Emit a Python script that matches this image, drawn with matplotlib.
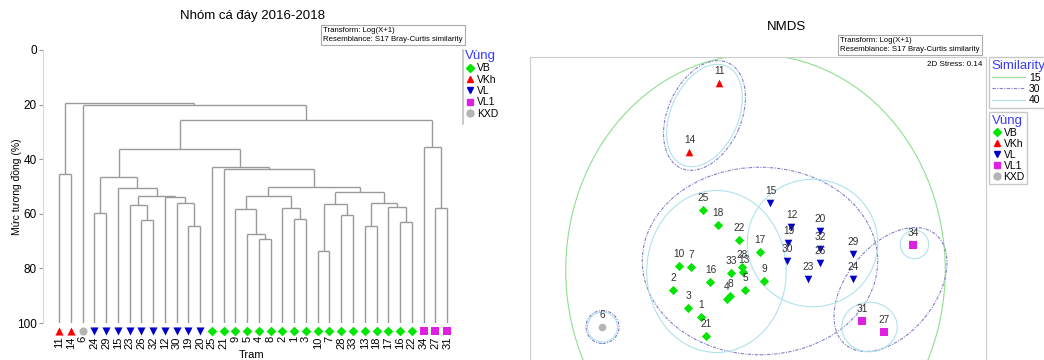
import matplotlib.pyplot as plt
from matplotlib.lines import Line2D
from matplotlib.patches import Ellipse

plt.rcParams['font.family'] = ['Liberation Sans', 'DejaVu Sans']

# leaf order of the cluster tree and the region of each leaf
leaf_order = [11, 14, 6, 24, 29, 15, 23, 26, 32, 12, 30, 19, 20, 25, 21, 9, 5,
              4, 8, 2, 1, 3, 10, 7, 28, 33, 13, 18, 17, 16, 22, 34, 27, 31]
leaf_region = ['VKh', 'VKh', 'KXD'] + ['VL'] * 10 + ['VB'] * 18 + ['VL1'] * 3

# (left, right, similarity %), 'cN' = cluster made at step N
merges = [
    (11, 14, 45.5),        # c0
    (24, 29, 59.8),        # c1
    (26, 32, 62.3),        # c2
    (23, 'c2', 56.8),      # c3
    (19, 20, 64.5),        # c4
    (30, 'c4', 56.0),      # c5
    (12, 'c5', 53.8),      # c6
    ('c3', 'c6', 53.4),    # c7
    (15, 'c7', 50.7),      # c8
    ('c1', 'c8', 46.4),    # c9
    (4, 8, 69.1),          # c10
    (5, 'c10', 67.5),      # c11
    (9, 'c11', 58.2),      # c12
    (1, 3, 61.9),          # c13
    (2, 'c13', 58.0),      # c14
    ('c12', 'c14', 53.5),  # c15
    (10, 7, 73.5),         # c16
    (28, 33, 60.4),        # c17
    ('c16', 'c17', 56.5),  # c18
    (13, 18, 64.5),        # c19
    (16, 22, 62.9),        # c20
    (17, 'c20', 57.6),     # c21
    ('c19', 'c21', 55.9),  # c22
    ('c18', 'c22', 52.1),  # c23
    ('c15', 'c23', 50.0),  # c24
    (21, 'c24', 43.7),     # c25
    (25, 'c25', 43.0),     # c26
    ('c9', 'c26', 36.4),   # c27
    (27, 31, 57.7),        # c28
    (34, 'c28', 35.5),     # c29
    ('c27', 'c29', 25.5),  # c30
    (6, 'c30', 20.0),      # c31
    ('c0', 'c31', 19.3),   # c32
]

# NMDS ordination, stations 1..34
station = list(range(1, 35))
station_region = ['VB', 'VB', 'VB', 'VB', 'VB', 'KXD', 'VB', 'VB', 'VB', 'VB',
                  'VKh', 'VL', 'VB', 'VKh', 'VL', 'VB', 'VB', 'VB', 'VL', 'VL',
                  'VB', 'VB', 'VL', 'VL', 'VB', 'VL', 'VL1', 'VB', 'VL', 'VL',
                  'VL1', 'VL', 'VB', 'VL1']
nmds_x = [-0.39, -0.58, -0.48, -0.22, -0.10, -1.05, -0.46, -0.20, 0.03, -0.54,
          -0.27, 0.21, -0.11, -0.47, 0.07, -0.33, 0.00, -0.28, 0.19, 0.40,
          -0.36, -0.14, 0.32, 0.62, -0.38, 0.40, 0.83, -0.12, 0.62, 0.18,
          0.68, 0.40, -0.19, 1.02]
nmds_y = [-0.71, -0.53, -0.65, -0.59, -0.53, -0.78, -0.38, -0.57, -0.47, -0.37,
          0.85, -0.11, -0.41, 0.39, 0.05, -0.48, -0.28, -0.10, -0.22, -0.14,
          -0.84, -0.20, -0.46, -0.46, 0.00, -0.35, -0.81, -0.38, -0.29, -0.34,
          -0.74, -0.26, -0.42, -0.23]

# similarity contours: level, centre, width, height, angle
contour_level = [15, 30, 30, 30, 30, 40, 40, 40, 40, 40, 40]
contour_cx = [-0.03, -0.37, -1.05, 0.00, 0.87, -0.37, -1.05, -0.29, 0.35, 1.03, 0.73]
contour_cy = [-0.40, 0.63, -0.78, -0.34, -0.53, 0.63, -0.78, -0.41, -0.22, -0.23, -0.78]
contour_w = [2.53, 0.77, 0.22, 1.57, 0.95, 0.72, 0.20, 0.93, 0.87, 0.19, 0.37]
contour_h = [2.87, 0.49, 0.22, 1.25, 0.59, 0.45, 0.20, 1.08, 0.85, 0.19, 0.33]
contour_angle = [0, 66, 0, 0, 51, 66, 0, 0, 0, 0, 0]

regions = ['VB', 'VKh', 'VL', 'VL1', 'KXD']
region_style = {'VB': ('D', '#00e600'), 'VKh': ('^', '#ff0000'),
                'VL': ('v', '#0000c8'), 'VL1': ('s', '#e020e0'),
                'KXD': ('o', '#b4b4b4')}
level_style = {15: ('#8fdf8f', '-'), 30: ('#8080cc', (0, (3, 1.2, 1, 1.2))),
               40: ('#b0e2ec', '-')}

W, H = 1044, 360
fig = plt.figure(figsize=(W / 100, H / 100), dpi=100)


def box(l, t, r, b):
    return [l / W, 1 - b / H, (r - l) / W, (b - t) / H]


def region_handles():
    return [Line2D([], [], marker=region_style[r][0], color=region_style[r][1],
                   ls='none', markersize=3.8 if region_style[r][0] == 'D' else 5)
            for r in regions]


# ---------------- dendrogram ----------------
ax1 = fig.add_axes(box(43, 50, 458, 323))
node_x = {s: i for i, s in enumerate(leaf_order)}
node_h = {s: 100 for s in leaf_order}
line_kw = dict(color='#9a9a9a', lw=1.0, solid_capstyle='butt')
for k, (a, b, s) in enumerate(merges):
    for c in (a, b):
        ax1.plot([node_x[c], node_x[c]], [node_h[c], s], **line_kw)
    ax1.plot([node_x[a], node_x[b]], [s, s], **line_kw)
    node_x['c%d' % k] = (node_x[a] + node_x[b]) / 2
    node_h['c%d' % k] = s

for r in regions:
    idx = [i for i, g in enumerate(leaf_region) if g == r]
    m, c = region_style[r]
    ax1.scatter(idx, [102.8] * len(idx), marker=m, c=c, s=34 if m != 'D' else 24,
                linewidths=0, clip_on=False, zorder=3)

ax1.set_xlim(-1.36, 33.93)
ax1.set_ylim(100, 0)
ax1.set_xticks(range(len(leaf_order)), [str(s) for s in leaf_order], rotation=90)
ax1.tick_params(axis='x', length=0, pad=9.5, labelsize=8)
ax1.set_yticks([0, 20, 40, 60, 80, 100])
ax1.tick_params(axis='y', length=3, color='#999999', labelsize=8.5, pad=1.5)
for side in ['top', 'right', 'bottom']:
    ax1.spines[side].set_visible(False)
ax1.spines['left'].set_color('#d8d8d8')

fig.text(253 / W, 1 - 16 / H, 'Nhóm cá đáy 2016-2018', ha='center', va='center', fontsize=9.5)
fig.text(17 / W, 1 - 187 / H, 'Mức tương đồng (%)', rotation=90, ha='center', va='center', fontsize=7.5)
fig.text(252 / W, 1 - 355 / H, 'Tram', ha='center', va='center', fontsize=8)

info = 'Transform: Log(X+1)\nResemblance: S17 Bray-Curtis similarity'
info_box = dict(boxstyle='square,pad=0.3', fc='white', ec='#aaaaaa', lw=0.8)
fig.text(323 / W, 1 - 35 / H, info, ha='left', va='center', fontsize=5.6,
         linespacing=1.35, bbox=info_box)

leg1 = fig.legend(region_handles(), regions, loc='upper left',
                  bbox_to_anchor=(465 / W, 1 - 50 / H), frameon=False, title='Vùng',
                  fontsize=7.5, title_fontsize=9.5, alignment='left',
                  handletextpad=0.15, labelspacing=0.13, borderpad=0,
                  handlelength=1.0, borderaxespad=0)
leg1.get_title().set_color('#3a3aff')
fig.add_artist(Line2D([463 / W, 463 / W], [1 - 50 / H, 1 - 124 / H], color='#c0c0c0', lw=1.2))

# ---------------- NMDS ----------------
ax2 = fig.add_axes(box(530, 57, 986, 380))
ax2.set_xlim(-1.5333, 1.5067)
ax2.set_ylim(-1.1333, 1.02)
ax2.set_xticks([])
ax2.set_yticks([])
for sp in ax2.spines.values():
    sp.set_color('#cccccc')

for lv, cx, cy, w, h, ang in zip(contour_level, contour_cx, contour_cy,
                                 contour_w, contour_h, contour_angle):
    col, ls = level_style[lv]
    ax2.add_patch(Ellipse((cx, cy), w, h, angle=ang, fill=False, ec=col, ls=ls, lw=0.8))

for r in regions:
    m, c = region_style[r]
    xs = [x for x, g in zip(nmds_x, station_region) if g == r]
    ys = [y for y, g in zip(nmds_y, station_region) if g == r]
    ax2.scatter(xs, ys, marker=m, c=c, s=30 if m != 'D' else 22, linewidths=0, zorder=3)

for s, x, y in zip(station, nmds_x, nmds_y):
    ax2.annotate(str(s), (x, y), xytext=(0, 8.5), textcoords='offset points',
                 ha='center', va='center', fontsize=7.3, color='#333333', zorder=4)

fig.text(787 / W, 1 - 27 / H, 'NMDS', ha='center', va='center', fontsize=9.5)
fig.text(840 / W, 1 - 45 / H, info, ha='left', va='center', fontsize=5.6,
         linespacing=1.35, bbox=info_box)
fig.text(982 / W, 1 - 64 / H, '2D Stress: 0.14', ha='right', va='center', fontsize=5.8)

sim_handles = [Line2D([], [], color=level_style[lv][0], ls=level_style[lv][1], lw=0.8)
               for lv in (15, 30, 40)]
leg2 = fig.legend(sim_handles, ['15', '30', '40'], loc='upper left',
                  bbox_to_anchor=(989 / W, 1 - 57 / H), title='Similarity',
                  fontsize=7.5, title_fontsize=9.5, alignment='left', fancybox=False,
                  edgecolor='#bbbbbb', handlelength=3.2, handletextpad=0.4,
                  labelspacing=0.12, borderpad=0.25, borderaxespad=0)
leg2.get_title().set_color('#3a3aff')
leg2.get_frame().set_linewidth(1.0)

leg3 = fig.legend(region_handles(), regions, loc='upper left',
                  bbox_to_anchor=(989 / W, 1 - 112 / H), title='Vùng',
                  fontsize=7.5, title_fontsize=9.5, alignment='left', fancybox=False,
                  edgecolor='#bbbbbb', handlelength=1.0, handletextpad=0.15,
                  labelspacing=0.1, borderpad=0.25, borderaxespad=0)
leg3.get_title().set_color('#3a3aff')
leg3.get_frame().set_linewidth(1.0)

fig.savefig('out.png', dpi=100)
